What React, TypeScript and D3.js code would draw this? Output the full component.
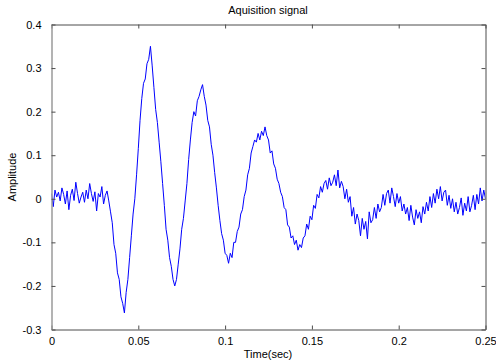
import * as d3 from "d3";
import { useEffect, useRef } from "react";

const sampleStep = 0.001;

const preTrigger = [
	0.012, -0.018, 0.02, 0.004, 0.015, -0.005, 0.025, 0.01, -0.012, 0.018,
	-0.025, 0.008, 0.022, -0.004, 0.038, 0.012, -0.01, 0.004, 0.015, -0.008,
	0.02, 0.0, 0.035, 0.012, -0.006, 0.016, -0.028, 0.012, 0.004, 0.028,
	-0.012, 0.008, 0.018,
];

const firstCycle = [
	-0.005, -0.03, -0.055, -0.105, -0.125, -0.17, -0.185, -0.225, -0.24, -0.262,
	-0.215, -0.185, -0.135, -0.085, -0.035, 0.0, 0.055, 0.115, 0.18, 0.23,
	0.265, 0.275, 0.31, 0.32, 0.35, 0.305, 0.255, 0.205, 0.175, 0.13,
	0.085, 0.035, -0.015, -0.07, -0.095, -0.135, -0.155, -0.185, -0.2, -0.185,
];

const secondCycle = [
	-0.15, -0.115, -0.07, -0.045, -0.005, 0.035, 0.09, 0.135, 0.175, 0.2,
	0.19, 0.225, 0.235, 0.25, 0.262, 0.235, 0.215, 0.18, 0.165, 0.125,
	0.1, 0.06, 0.025, -0.015, -0.05, -0.08, -0.095, -0.125, -0.13, -0.148,
];

const thirdCycle = [
	-0.125, -0.135, -0.1, -0.1, -0.075, -0.065, -0.035, -0.025, 0.005, 0.02,
	0.055, 0.07, 0.105, 0.12, 0.135, 0.13, 0.15, 0.135, 0.155, 0.145,
	0.165, 0.145, 0.135, 0.105, 0.11, 0.08, 0.07, 0.045, 0.035, 0.015,
	0.005, -0.02, -0.025, -0.06, -0.065, -0.09, -0.085, -0.105, -0.095, -0.118,
	-0.105,
];

const tail = [
	-0.112, -0.09, -0.085, -0.058, -0.07, -0.04, -0.048, -0.015, -0.022, 0.01,
	0.002, 0.028, 0.015, 0.035, 0.042, 0.022, 0.048, 0.03, 0.038, 0.055,
	0.03, 0.066, 0.025, 0.04, 0.028, 0.0, 0.022, -0.008, 0.005, -0.04,
	-0.02, -0.058, -0.035, -0.05, -0.085, -0.045, -0.07, -0.052, -0.092, -0.03,
	-0.055, -0.048, -0.02, -0.045, -0.012, -0.03, -0.02, 0.01, -0.015, 0.012,
	0.02, -0.01, 0.025, 0.005, -0.018, 0.012, -0.01, 0.005, -0.028, -0.012,
	-0.035, -0.02, -0.05, -0.015, -0.042, -0.06, -0.025, -0.045, -0.03, -0.055,
	-0.018, -0.035, -0.008, -0.028, 0.005, -0.02, 0.012, -0.01, 0.022, 0.0,
	0.028, -0.005, 0.015, 0.02, -0.015, 0.008, -0.022, 0.0, -0.03, -0.008,
	-0.035, -0.02, 0.002, -0.038, -0.01, -0.028, 0.005, -0.03, -0.015, 0.008,
	-0.025, 0.01, -0.012, 0.025, -0.005, 0.02, 0.0,
];

const amplitude = [...preTrigger, ...firstCycle, ...secondCycle, ...thirdCycle, ...tail];

const xTicks = [0, 0.05, 0.1, 0.15, 0.2, 0.25];
const yTicks = [-0.3, -0.2, -0.1, 0, 0.1, 0.2, 0.3, 0.4];

export default function App() {
	const svgRef = useRef(null);

	useEffect(() => {
		const margin = { top: 24.5, right: 10.5, bottom: 34.5, left: 51.5 },
			width = 496 - margin.left - margin.right,
			height = 364 - margin.top - margin.bottom;
		const font = "Liberation Sans, Arial, sans-serif";

		const svg = d3
			.select(svgRef.current)
			.attr("width", 496)
			.attr("height", 364);

		svg.append("rect").attr("width", 496).attr("height", 364).attr("fill", "#fff");

		const g = svg.append("g").attr("transform", `translate(${margin.left},${margin.top})`);

		const x = d3.scaleLinear().domain([0, 0.25]).range([0, width]);
		const y = d3.scaleLinear().domain([-0.3, 0.4]).range([height, 0]);

		const fmt = (d) => (d === 0 ? "0" : String(+d.toFixed(2)));

		// clip the trace to the axes box
		svg.append("defs")
			.append("clipPath")
			.attr("id", "plotclip")
			.append("rect")
			.attr("width", width)
			.attr("height", height);

		const line = d3
			.line()
			.x((d, i) => x(i * sampleStep))
			.y((d) => y(d));

		g.append("path")
			.datum(amplitude)
			.attr("clip-path", "url(#plotclip)")
			.attr("fill", "none")
			.attr("stroke", "#0000ff")
			.attr("stroke-width", 1)
			.attr("d", line);

		// MATLAB-style box, ticks pointing inward on every side
		const axisColor = "#4d4d4d";
		const tickLen = 4;

		const bottom = g.append("g")
			.attr("transform", `translate(0,${height})`)
			.call(d3.axisBottom(x).tickValues(xTicks).tickSizeInner(-tickLen).tickSizeOuter(0).tickPadding(8).tickFormat(fmt));
		const top = g.append("g")
			.call(d3.axisTop(x).tickValues(xTicks).tickSizeInner(-tickLen).tickSizeOuter(0).tickFormat(() => ""));
		const left = g.append("g")
			.call(d3.axisLeft(y).tickValues(yTicks).tickSizeInner(-tickLen).tickSizeOuter(0).tickPadding(10).tickFormat(fmt));
		const right = g.append("g")
			.attr("transform", `translate(${width},0)`)
			.call(d3.axisRight(y).tickValues(yTicks).tickSizeInner(-tickLen).tickSizeOuter(0).tickFormat(() => ""));

		[bottom, top, left, right].forEach((a) => {
			a.select(".domain").attr("stroke", axisColor);
			a.selectAll(".tick line").attr("stroke", axisColor);
			a.selectAll("text")
				.attr("fill", "#000")
				.attr("font-family", font)
				.attr("font-size", 11);
		});
		left.select(".domain").attr("stroke", "#9a9a9a").attr("stroke-width", 1.5);

		svg.append("text")
			.attr("x", 268)
			.attr("y", 14)
			.attr("text-anchor", "middle")
			.attr("font-family", font)
			.attr("font-size", 11)
			.text("Aquisition signal");

		svg.append("text")
			.attr("x", 268)
			.attr("y", 358)
			.attr("text-anchor", "middle")
			.attr("font-family", font)
			.attr("font-size", 11)
			.text("Time(sec)");

		svg.append("text")
			.attr("transform", `translate(16,${margin.top + height / 2}) rotate(-90)`)
			.attr("text-anchor", "middle")
			.attr("font-family", font)
			.attr("font-size", 11)
			.text("Amplitude");

		return () => {
			d3.select(svgRef.current).selectAll("*").remove();
		};
	}, []);

	return (
		<div style={{ position: "absolute", left: 0, top: 0 }}>
			<svg ref={svgRef} style={{ display: "block" }} />
		</div>
	);
}
